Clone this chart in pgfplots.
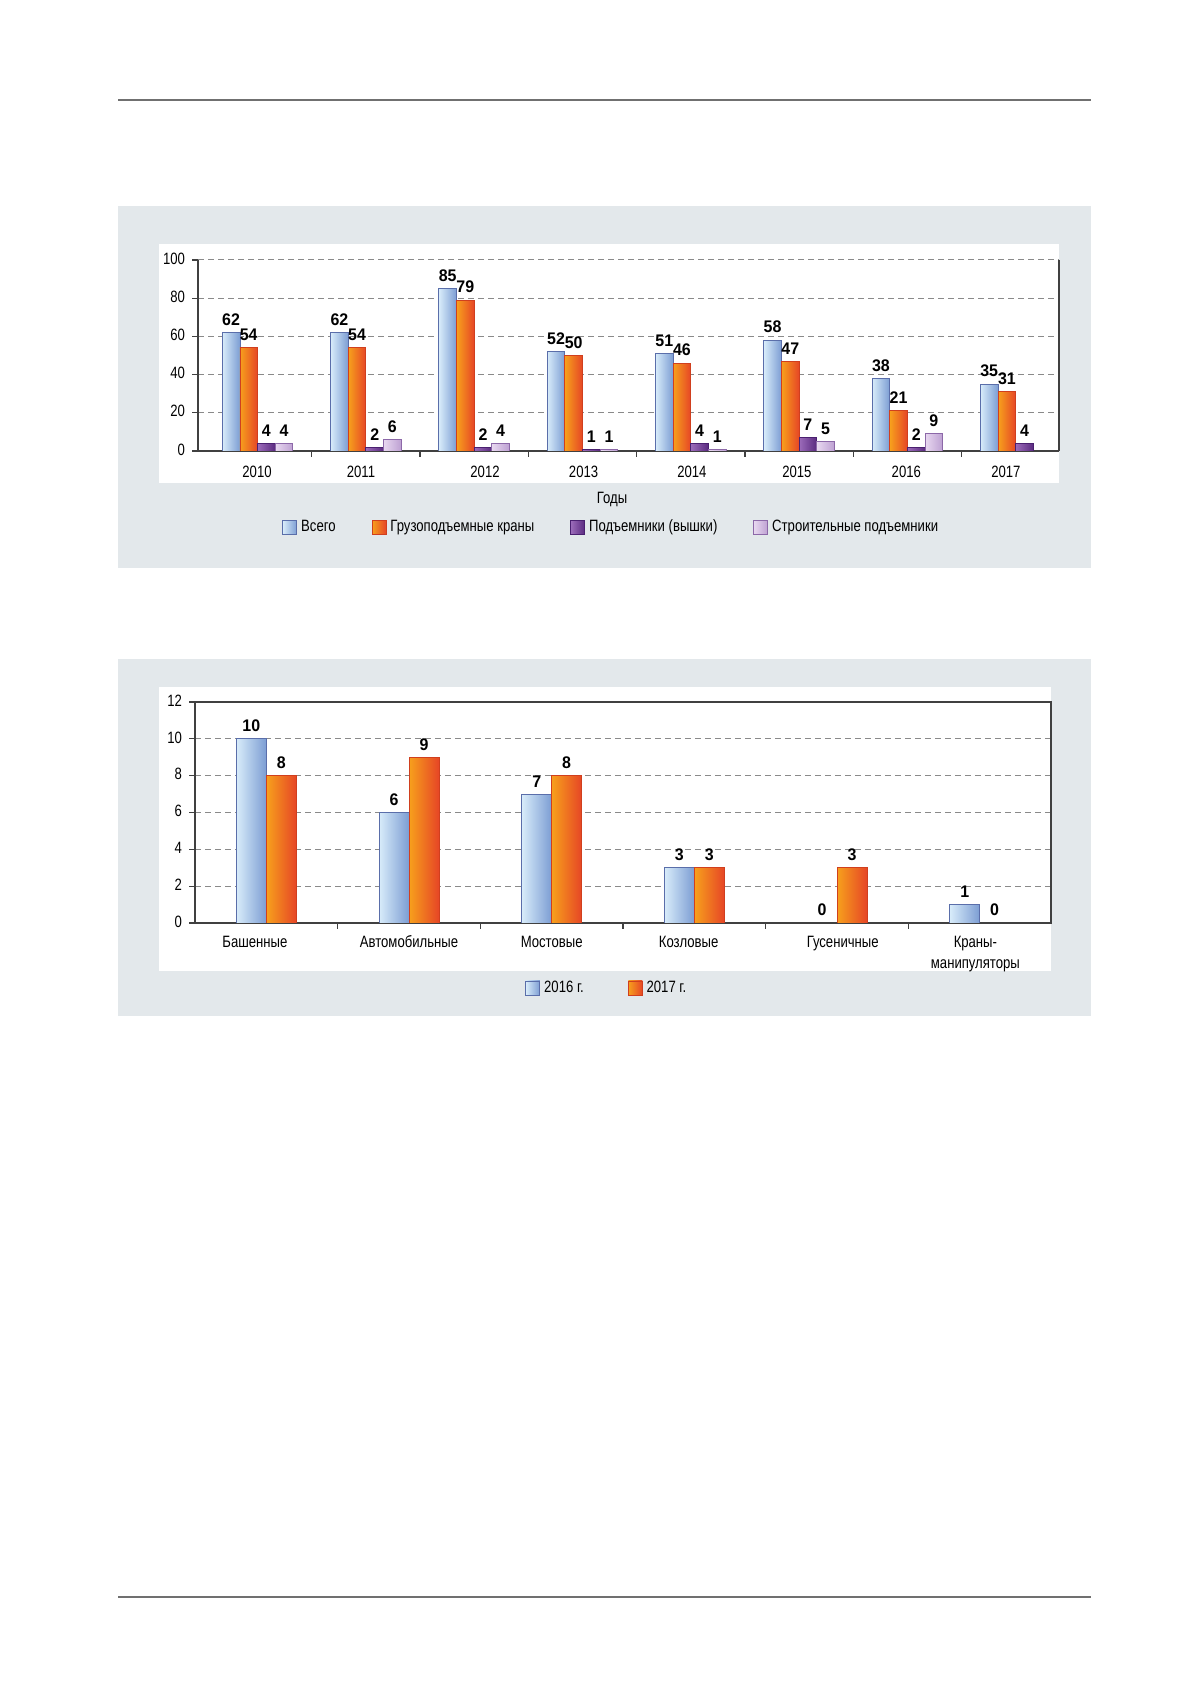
\documentclass[border=0pt]{standalone}
\usepackage{fontspec}
\setmainfont{Liberation Sans}[FakeStretch=0.8]
\newfontfamily\valfont{Liberation Sans}[FakeStretch=0.95]
\usepackage{pgfplots}
\pgfplotsset{compat=1.18}
\usepackage{pgfplotstable}

\definecolor{panel}{HTML}{E3E8EB}
\definecolor{rulecol}{HTML}{707070}
\definecolor{axisgray}{HTML}{404040}
\definecolor{gridgray}{HTML}{8A8A8A}
\definecolor{blueL}{HTML}{D8ECFA}
\definecolor{blueR}{HTML}{7C9DD3}
\definecolor{blueE}{HTML}{5A6EAA}
\definecolor{orL}{HTML}{F7A01C}
\definecolor{orR}{HTML}{E64626}
\definecolor{orE}{HTML}{D03F1E}
\definecolor{puL}{HTML}{9C6CBA}
\definecolor{puR}{HTML}{5A2A80}
\definecolor{puE}{HTML}{4A2070}
\definecolor{laL}{HTML}{E8D8F0}
\definecolor{laR}{HTML}{BDA0D2}
\definecolor{laE}{HTML}{8C68A8}

\pgfplotstableread{
x tot cr lift build
0 62 54 4 4
1 62 54 2 6
2 85 79 2 4
3 52 50 1 1
4 51 46 4 1
5 58 47 7 5
6 38 21 2 9
7 35 31 4 nan
}\tabA

\pgfplotstableread{
x a b
0 10 8
1 6 9
2 7 8
3 3 3
4 0 3
5 1 0
}\tabB

\newcommand{\tfont}{\fontsize{8.2}{10.5}\selectfont}
\newcommand{\vfont}{\valfont\bfseries\fontsize{8.4}{9}\selectfont}

\pgfplotsset{
  mybars/.style={
    scale only axis,
    anchor=south west,
    tick align=outside,
    axis line style={axisgray, line width=0.7pt},
    tick style={axisgray, line width=0.6pt},
    major tick length=3pt,
    ymajorgrids,
    grid style={densely dashed, gridgray, line width=0.5pt},
    tick label style={font=\tfont},
    /pgf/number format/assume math mode=true,
    nodes near coords,
    nodes near coords style={font=\vfont, text=black},
    legend image code/.code={\draw[##1] (0pt,-3.5pt) rectangle (7pt,3.5pt);},
    ytick pos=left,
    xtick pos=bottom,
    extra x tick style={major tick length=0pt},
    typeset ticklabels with strut,
  }
}

\begin{document}
\begin{tikzpicture}
\path[use as bounding box, fill=white] (0,0) rectangle (589.5pt,840.5pt);
\draw[rulecol, line width=1pt] (59pt,790.5pt) -- (545.5pt,790.5pt);
\draw[rulecol, line width=1pt] (59pt,42pt) -- (545.5pt,42pt);
\fill[panel] (59pt,556.5pt) rectangle (545.5pt,737.5pt);
\fill[white] (79.5pt,599pt) rectangle (529.5pt,718.5pt);
\fill[panel] (59pt,332.5pt) rectangle (545.5pt,511pt);
\fill[white] (79.5pt,355pt) rectangle (525.5pt,497pt);

\begin{axis}[mybars,
  at={(99pt,615pt)}, width=430.5pt, height=95.5pt,
  xmin=-0.55, xmax=7.4, ymin=0, ymax=100,
  axis x line*=bottom, axis y line*=box,
  ytick={0,20,...,100},
  xtick={0.5,1.5,...,6.5}, xticklabels={},
  extra x ticks={-0.005,0.955,2.1,3.01,4.01,4.98,5.99,6.91},
  extra x tick labels={2010,2011,2012,2013,2014,2015,2016,2017},
  extra x tick style={xticklabel style={yshift=-2.5pt}},
  xlabel={Годы},
  xlabel style={font=\tfont, at={(axis description cs:0.481,-0.2565)}, anchor=center},
  legend columns=4,
  legend style={at={(0.0906,-0.40)}, anchor=west, draw=none, fill=none, font=\tfont,
    /tikz/every even column/.append style={column sep=16pt}},
]
\pgfplotsinvokeforeach{0,...,7}{
  \addplot[ybar, bar width=0.163, bar shift=-0.2445, draw=blueE, left color=blueL, right color=blueR, forget plot,
    every node near coord/.append style={xshift=-13.24pt}]
    table[x=x, y=tot, restrict x to domain=#1:#1]{\tabA};
  \addplot[ybar, bar width=0.163, bar shift=-0.0815, draw=orE, left color=orL, right color=orR, forget plot,
    every node near coord/.append style={xshift=-4.41pt}]
    table[x=x, y=cr, restrict x to domain=#1:#1]{\tabA};
  \addplot[ybar, bar width=0.163, bar shift=0.0815, draw=puE, left color=puL, right color=puR, forget plot,
    every node near coord/.append style={xshift=4.41pt}]
    table[x=x, y=lift, restrict x to domain=#1:#1]{\tabA};
}
\pgfplotsinvokeforeach{0,...,6}{
  \addplot[ybar, bar width=0.163, bar shift=0.2445, draw=laE, left color=laL, right color=laR, forget plot,
    every node near coord/.append style={xshift=13.24pt}]
    table[x=x, y=build, restrict x to domain=#1:#1]{\tabA};
}
\addlegendimage{draw=blueE, left color=blueL, right color=blueR}
\addlegendentry{Всего}
\addlegendimage{draw=orE, left color=orL, right color=orR}
\addlegendentry{Грузоподъемные краны}
\addlegendimage{draw=puE, left color=puL, right color=puR}
\addlegendentry{Подъемники (вышки)}
\addlegendimage{draw=laE, left color=laL, right color=laR}
\addlegendentry{Строительные подъемники}
\end{axis}

\begin{axis}[mybars,
  at={(97.5pt,379pt)}, width=428pt, height=110.5pt,
  xmin=-0.5, xmax=5.5, ymin=0, ymax=12,
  ytick={0,2,...,12},
  xtick={0.5,1.5,...,4.5}, xticklabels={},
  extra x ticks={-0.08,1,2,2.96,4.04,4.97},
  extra x tick labels={Башенные,Автомобильные,Мостовые,Козловые,Гусеничные,{Краны-\\манипуляторы}},
  extra x tick style={xticklabel style={yshift=-1.5pt}},
  xticklabel style={align=center},
  legend columns=2,
  legend style={at={(0.3785,-0.294)}, anchor=west, draw=none, fill=none, font=\tfont,
    /tikz/every even column/.append style={column sep=20pt}},
]
\pgfplotsinvokeforeach{0,...,5}{
  \addplot[ybar, bar width=0.21, bar shift=-0.105, draw=blueE, left color=blueL, right color=blueR, forget plot,
    every node near coord/.append style={xshift=-7.49pt}]
    table[x=x, y=a, restrict x to domain=#1:#1]{\tabB};
  \addplot[ybar, bar width=0.21, bar shift=0.105, draw=orE, left color=orL, right color=orR, forget plot,
    every node near coord/.append style={xshift=7.49pt}]
    table[x=x, y=b, restrict x to domain=#1:#1]{\tabB};
}
\addlegendimage{draw=blueE, left color=blueL, right color=blueR}
\addlegendentry{2016 г.}
\addlegendimage{draw=orE, left color=orL, right color=orR}
\addlegendentry{2017 г.}
\end{axis}
\end{tikzpicture}
\end{document}
